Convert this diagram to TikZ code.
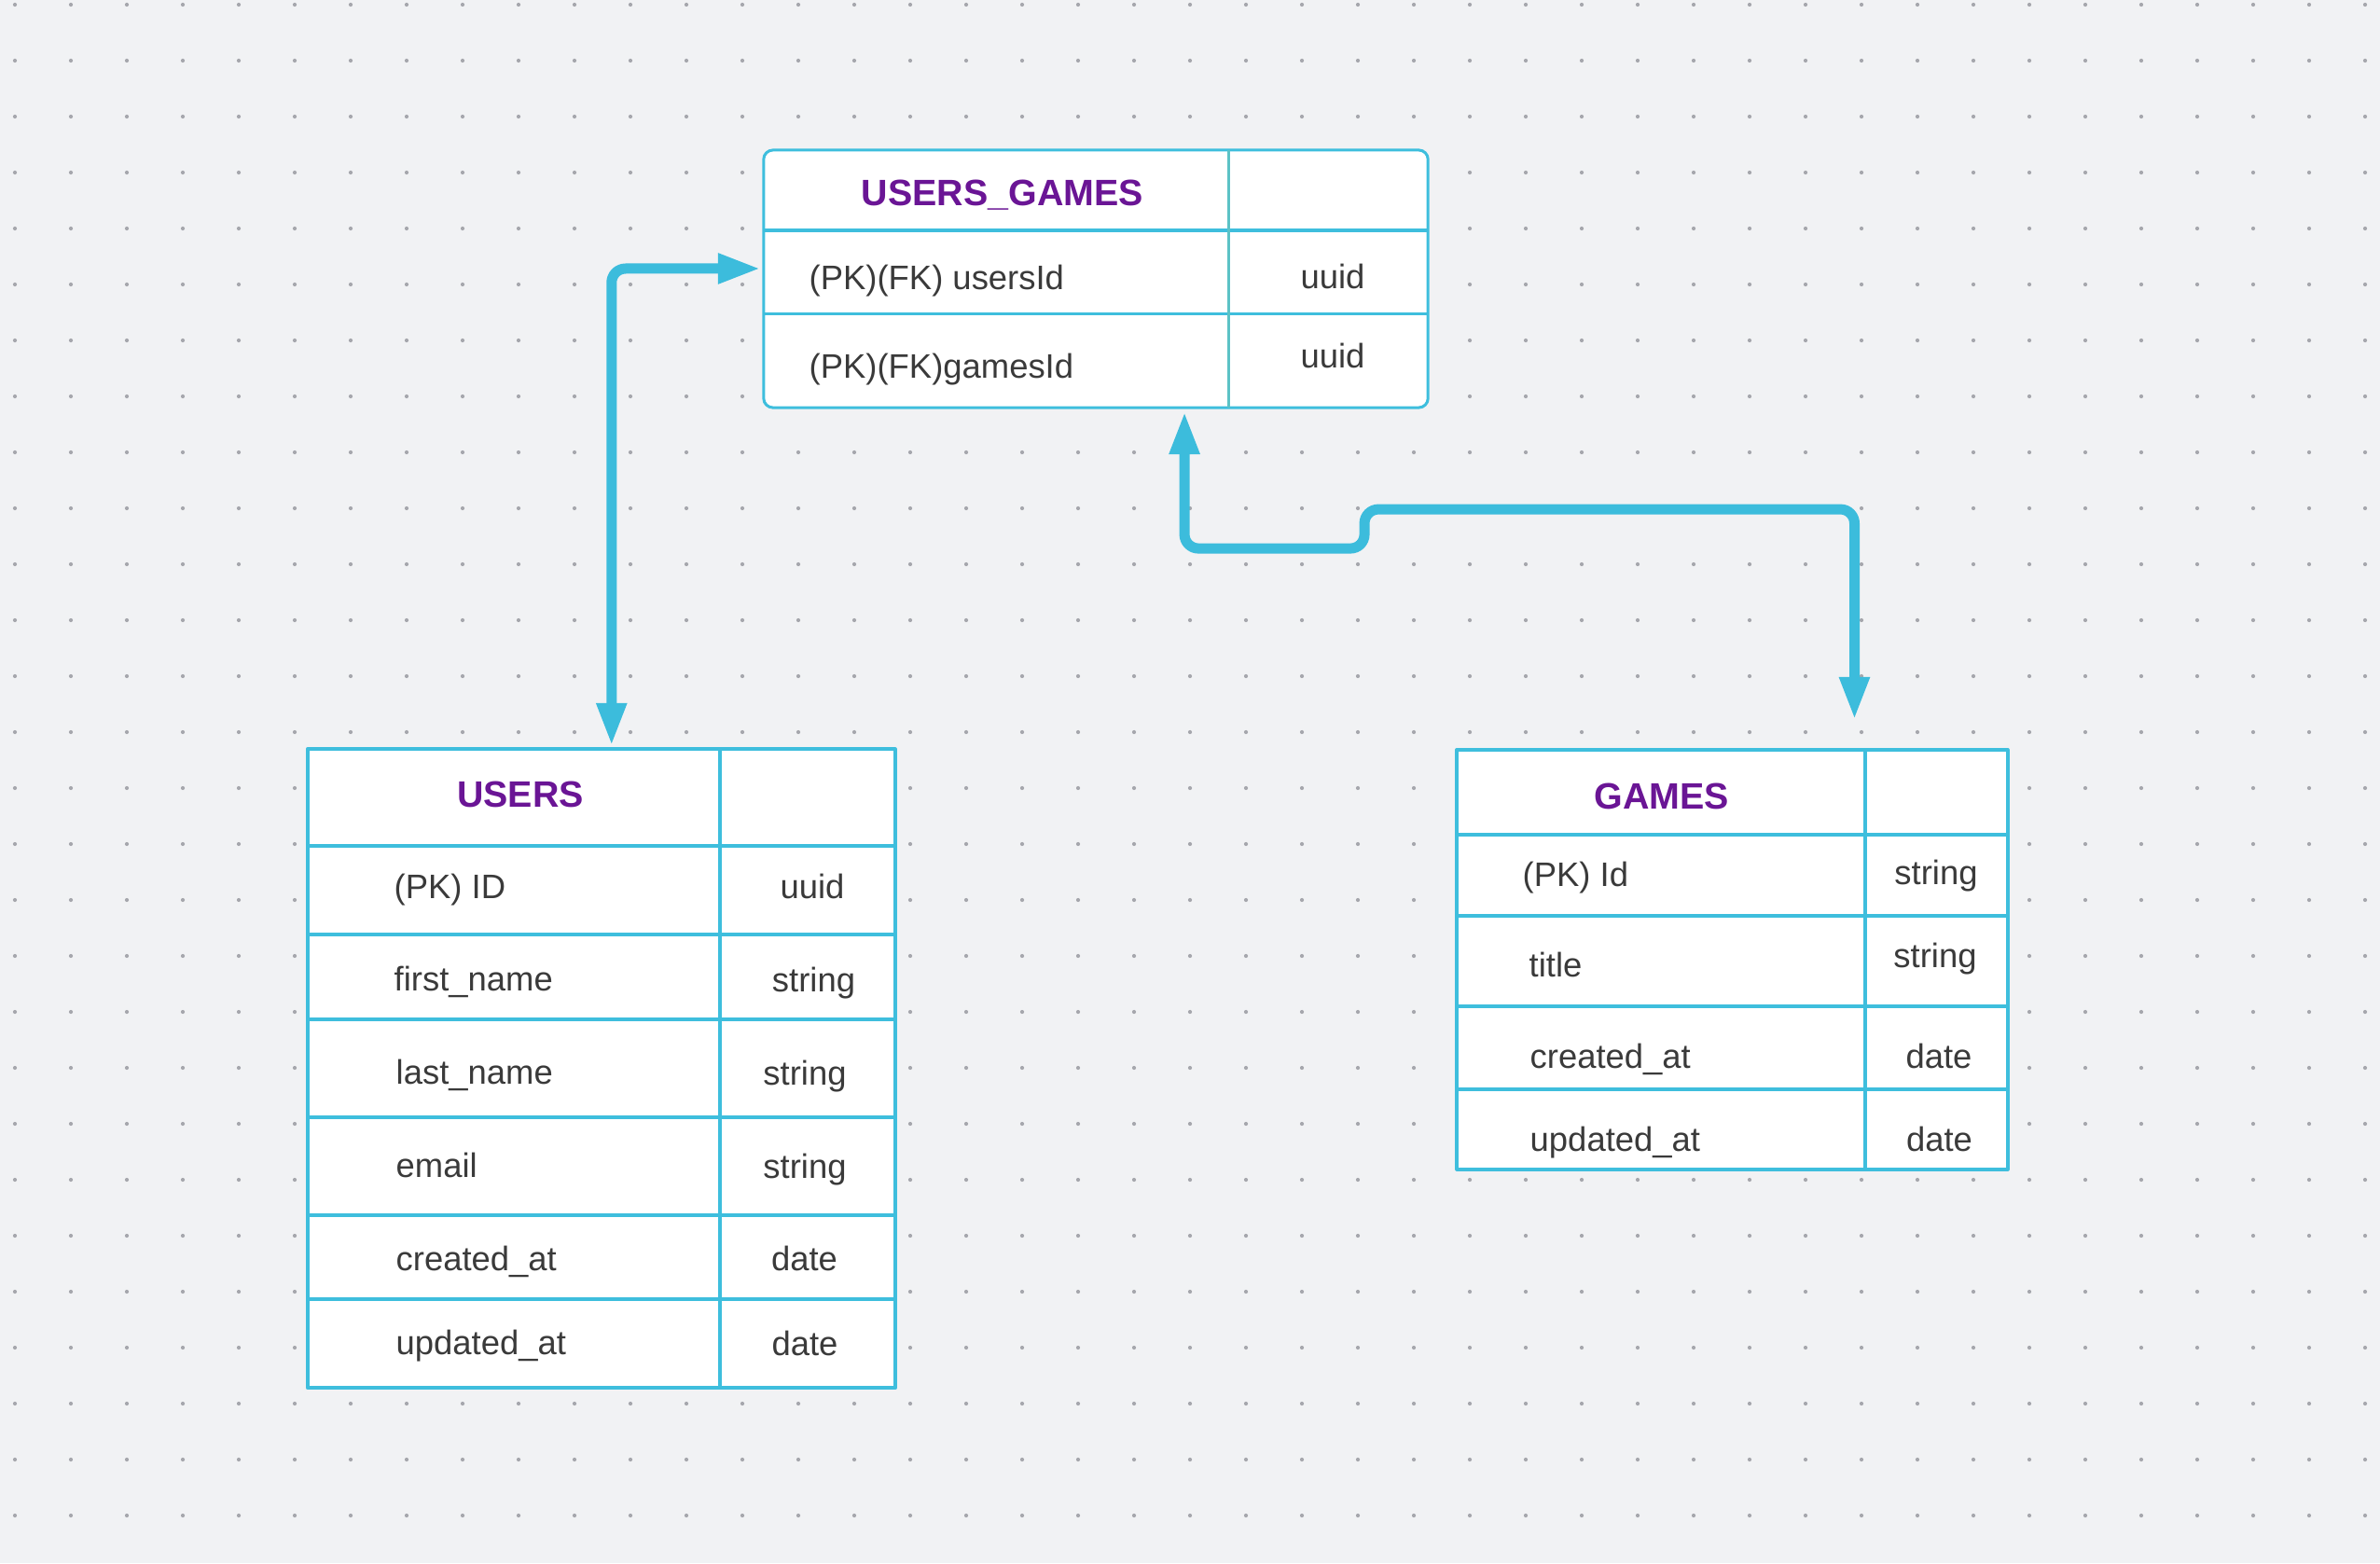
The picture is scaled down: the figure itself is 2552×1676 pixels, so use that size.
\documentclass[tikz,border=0pt]{standalone}
\usepackage{fontspec}
\setmainfont{Liberation Sans}
\usetikzlibrary{arrows.meta}

\definecolor{paper}{HTML}{F1F2F4}
\definecolor{dotgrey}{HTML}{A6A7AD}
\definecolor{tblblue}{HTML}{3EBEDD}
\definecolor{tblteal}{HTML}{5CC2C6}
\definecolor{linkblue}{HTML}{3CBCDC}
\definecolor{hdrpurple}{HTML}{6A1595}
\definecolor{ink}{HTML}{3A3A3A}

\begin{document}
\begin{tikzpicture}[x=0.01cm,y=-0.01cm,line join=round,
  >={Triangle[length=0.46cm,width=0.30cm]},
  tbl/.style={draw=tblblue,fill=white,line width=0.04cm,inner sep=0pt,outer sep=0pt},
  sep/.style={draw=tblblue,line width=0.04cm},
  link/.style={draw=linkblue,line width=0.11cm,rounded corners=0.15cm,<->},
  hdr/.style={anchor=base,inner sep=0pt,text=hdrpurple,font=\fontsize{11.2}{13}\selectfont\bfseries},
  fld/.style={anchor=base west,inner sep=0pt,text=ink,font=\fontsize{10.36}{12}\selectfont},
  typ/.style={anchor=base,inner sep=0pt,text=ink,font=\fontsize{10.36}{12}\selectfont}]
\useasboundingbox (0,0) rectangle (2552,1676);
\fill[paper] (0,0) rectangle (2552,1676);
\foreach \i in {0,...,42}
  \foreach \j in {0,...,27}
    \fill[dotgrey] (16+60*\i,5+60*\j) circle (0.6pt);

% USERS_GAMES
\node[tbl,line width=0.03cm,rounded corners=0.1cm,minimum width=7.12cm,minimum height=2.76cm] (ug) at (1175,299) {};
\draw[sep,line width=0.03cm] (819,247) -- (1531,247);
\draw[sep,line width=0.03cm] (819,336) -- (1531,336);
\draw[tblteal,line width=0.03cm] (1317,161) -- (1317,437);
\node[hdr] (ug-t) at (1075,220) {USERS\_GAMES};
\node[fld] (ug-f1) at (867,310) {(PK)(FK) usersId};
\node[typ] (ug-t1) at (1429,309) {uuid};
\node[fld] (ug-f2) at (867,405) {(PK)(FK)gamesId};
\node[typ] (ug-t2) at (1429,394) {uuid};

% USERS
\node[tbl,minimum width=6.295cm,minimum height=6.845cm] (users) at (644.75,1145.75) {};
\foreach \r in {907,1002,1093.3,1198.3,1303.3,1393.3}
  \draw[sep] (330,\r) -- (959.5,\r);
\draw[sep] (772.3,803.5) -- (772.3,1488);
\node[hdr] (users-t) at (558,865) {USERS};
\node[fld] (users-f1) at (422,963) {(PK) ID};
\node[typ] (users-t1) at (871,963) {uuid};
\node[fld] (users-f2) at (422,1062) {first\_name};
\node[typ] (users-t2) at (872.5,1063) {string};
\node[fld] (users-f3) at (424,1162) {last\_name};
\node[typ] (users-t3) at (863,1163) {string};
\node[fld] (users-f4) at (424,1262) {email};
\node[typ] (users-t4) at (863,1263) {string};
\node[fld] (users-f5) at (424,1362) {created\_at};
\node[typ] (users-t5) at (862.5,1362) {date};
\node[fld] (users-f6) at (424,1452) {updated\_at};
\node[typ] (users-t6) at (863,1453) {date};

% GAMES
\node[tbl,minimum width=5.9cm,minimum height=4.495cm] (games) at (1857.4,1028.75) {};
\foreach \r in {895.3,982,1078.7,1168.3}
  \draw[sep] (1562.5,\r) -- (2152.3,\r);
\draw[sep] (2000,804) -- (2000,1253.5);
\node[hdr] (games-t) at (1782,867) {GAMES};
\node[fld] (games-f1) at (1632,950) {(PK) Id};
\node[typ] (games-t1) at (2076,948) {string};
\node[fld] (games-f2) at (1639,1047) {title};
\node[typ] (games-t2) at (2075,1037) {string};
\node[fld] (games-f3) at (1640,1145) {created\_at};
\node[typ] (games-t3) at (2079,1145) {date};
\node[fld] (games-f4) at (1640,1234) {updated\_at};
\node[typ] (games-t4) at (2079.5,1234) {date};

% relations
\draw[link] ([xshift=0.11cm,yshift=0.035cm]users.north) |- ([xshift=-0.03cm,yshift=0.11cm]ug.west);
\draw[link] ([xshift=0.95cm,yshift=-0.04cm]ug.south) -- ++(0,147) -| ++(193,-42) -| ([xshift=1.31cm,yshift=0.32cm]games.north);
\end{tikzpicture}
\end{document}
